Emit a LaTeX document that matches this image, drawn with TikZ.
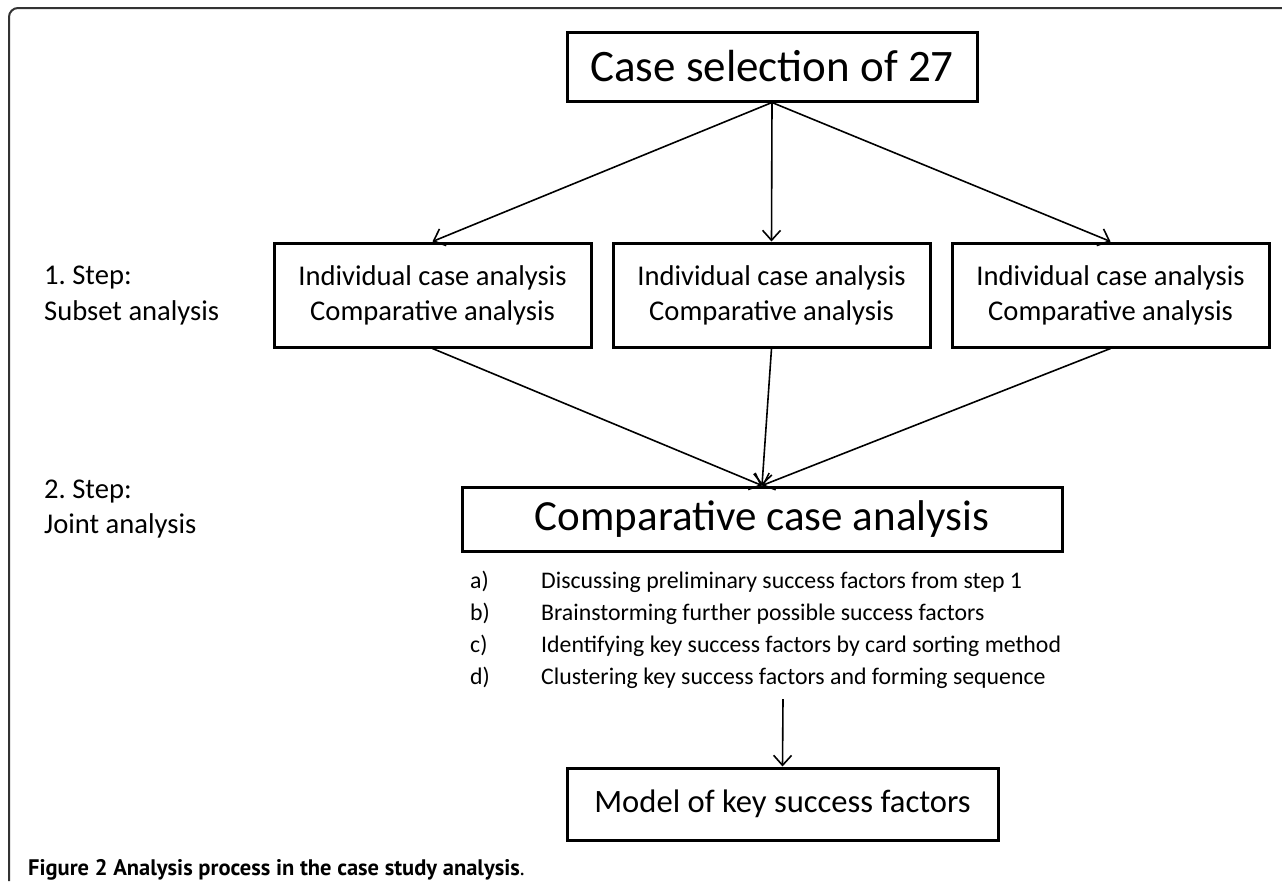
\documentclass[tikz,border=0pt]{standalone}
\usepackage{fontspec}
\setmainfont{Carlito}
\newfontfamily\capfont{PT Sans}
\usetikzlibrary{arrows.meta}
\begin{document}
\begin{tikzpicture}[x=1pt,y=-1pt,
  box/.style={draw=black, line width=3pt, inner sep=0pt, align=center, text=black},
  conn/.style={line width=1.6pt, draw=black, -{Straight Barb[length=10pt,width=18pt]}},
  lbl/.style={anchor=west, font=\fontsize{28.6}{34}\selectfont, inner sep=0pt},
  item/.style={anchor=base west, font=\fontsize{23.8}{28}\selectfont, inner sep=0pt}]
\useasboundingbox (0,0) rectangle (1282,881);
\fill[white] (0,0) rectangle (1282,881);
\draw[line width=2pt, draw=black!80, rounded corners=9pt] (9,881) -- (9,8) -- (1282,8);

\node[box, minimum width=410pt, minimum height=69pt, font=\fontsize{45}{54}\selectfont] (top) at (772,66.5) {Case selection of 27};

\node[box, minimum width=317pt, minimum height=104pt, font=\fontsize{28.6}{35}\selectfont] (b1) at (432.5,295) {Individual case analysis\\Comparative analysis};
\node[box, minimum width=317pt, minimum height=104pt, font=\fontsize{28.6}{35}\selectfont] (b2) at (771.5,295) {Individual case analysis\\Comparative analysis};
\node[box, minimum width=317pt, minimum height=104pt, font=\fontsize{28.6}{35}\selectfont] (b3) at (1110.5,295) {Individual case analysis\\Comparative analysis};

\node[box, minimum width=600pt, minimum height=64pt, font=\fontsize{43}{52}\selectfont] (comp) at (762,519) {Comparative case analysis};

\node[box, minimum width=431pt, minimum height=72pt, font=\fontsize{32.6}{40}\selectfont] (model) at (782.5,804) {Model of key success factors};

\node[lbl] (s1a) at (44,278) {1.\ Step:};
\node[lbl] (s1b) at (44,313) {Subset analysis};
\node[lbl] (s2a) at (44,492) {2.\ Step:};
\node[lbl] (s2b) at (44,526) {Joint analysis};

\node[item] (la) at (470,588) {a)};
\node[item] (ta) at (541,588) {Discussing preliminary success factors from step 1};
\node[item] (lb) at (470,620) {b)};
\node[item] (tb) at (541,620) {Brainstorming further possible success factors};
\node[item] (lc) at (470,652) {c)};
\node[item] (tc) at (541,652) {Identifying key success factors by card sorting method};
\node[item] (ld) at (470,684) {d)};
\node[item] (td) at (541,684) {Clustering key success factors and forming sequence};

\coordinate (lst) at (783,699);

\draw[conn] (top.south) -- (b1.north);
\draw[conn] (top.south) -- (b2.north);
\draw[conn] (top.south) -- (b3.north);
\draw[conn] (b1.south) -- (comp.north);
\draw[conn] (b2.south) -- (comp.north);
\draw[conn] (b3.south) -- (comp.north);
\draw[conn] (lst) -- (model.north);

\node[anchor=base west, inner sep=0pt, font=\capfont\fontsize{22.5}{26}\selectfont] (cap) at (28,875) {\textbf{Figure 2 Analysis process in the case study analysis}.};
\end{tikzpicture}
\end{document}
